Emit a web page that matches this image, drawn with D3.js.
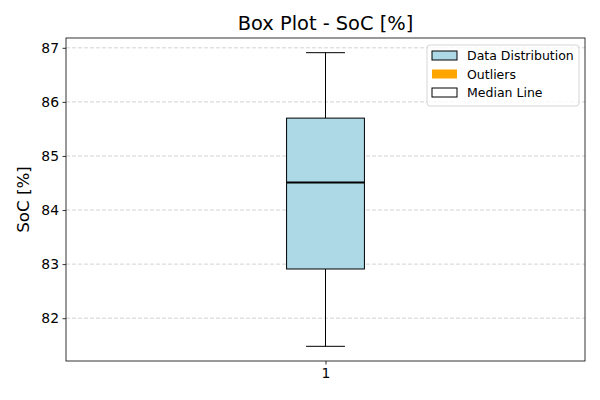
<!DOCTYPE html>
<html>
<head>
<meta charset="utf-8">
<script src="https://cdn.jsdelivr.net/npm/d3@7"></script>
<style>
  body { margin: 0; background: #fff; }
  text { font-family: "DejaVu Sans", sans-serif; }
</style>
</head>
<body>
<svg id="chart" width="600" height="400"></svg>
<script>
// box plot summary
var categories = ['1']
var whiskerLow = [81.48]
var q1 = [82.91]
var median = [84.51]
var q3 = [85.70]
var whiskerHigh = [86.91]
var yTicks = [82, 83, 84, 85, 86, 87]
var legendItems = ['Data Distribution', 'Outliers', 'Median Line']

var svg = d3.select('#chart')
var margin = {left: 66, right: 15, top: 38, bottom: 39}
var w = 600 - margin.left - margin.right
var h = 400 - margin.top - margin.bottom

var g = svg.append('g').attr('transform', `translate(${margin.left},${margin.top})`)

// matplotlib style 5% padding
var lo = d3.min(whiskerLow), hi = d3.max(whiskerHigh)
var pad = (hi - lo) * 0.05
var y = d3.scaleLinear().domain([lo - pad, hi + pad]).range([h, 0])
var x = d3.scaleLinear().domain([0.5, categories.length + 0.5]).range([0, w])

// grid lines
g.selectAll('.grid').data(yTicks).enter().append('line')
  .attr('x1', 0).attr('x2', w)
  .attr('y1', d => y(d)).attr('y2', d => y(d))
  .attr('stroke', '#b0b0b0').attr('stroke-opacity', 0.7)
  .attr('stroke-dasharray', '4,2').attr('stroke-width', 0.8)

// boxes
var boxW = x(1.15) - x(1)
var capW = boxW / 2
categories.forEach(function (c, i) {
  var cx = x(i + 1)
  g.append('line').attr('x1', cx).attr('x2', cx)
    .attr('y1', y(q3[i])).attr('y2', y(whiskerHigh[i]))
    .attr('stroke', '#000').attr('stroke-width', 1)
  g.append('line').attr('x1', cx).attr('x2', cx)
    .attr('y1', y(q1[i])).attr('y2', y(whiskerLow[i]))
    .attr('stroke', '#000').attr('stroke-width', 1)
  ;[whiskerLow[i], whiskerHigh[i]].forEach(function (v) {
    g.append('line').attr('x1', cx - capW / 2).attr('x2', cx + capW / 2)
      .attr('y1', y(v)).attr('y2', y(v))
      .attr('stroke', '#000').attr('stroke-width', 1)
  })
  g.append('rect')
    .attr('x', cx - boxW / 2).attr('width', boxW)
    .attr('y', y(q3[i])).attr('height', y(q1[i]) - y(q3[i]))
    .attr('fill', 'lightblue').attr('stroke', '#000').attr('stroke-width', 1)
  g.append('line').attr('x1', cx - boxW / 2).attr('x2', cx + boxW / 2)
    .attr('y1', y(median[i])).attr('y2', y(median[i]))
    .attr('stroke', '#000').attr('stroke-width', 2)
})

// axes
var yAxis = g.append('g').call(d3.axisLeft(y).tickValues(yTicks).tickSize(3.5).tickPadding(3.5).tickFormat(d3.format('d')))
var xAxis = g.append('g').attr('transform', `translate(0,${h})`)
  .call(d3.axisBottom(x).tickValues(categories.map((c, i) => i + 1)).tickSize(3.5).tickPadding(3.5).tickFormat((d, i) => categories[i]))
;[yAxis, xAxis].forEach(function (a) {
  a.select('.domain').remove()
  a.selectAll('text').attr('font-size', '13.9px').attr('fill', '#000')
    .style('font-family', '"DejaVu Sans", sans-serif')
  a.selectAll('line').attr('stroke', '#000').attr('stroke-width', 0.8)
})

g.append('rect').attr('width', w).attr('height', h)
  .attr('fill', 'none').attr('stroke', '#000').attr('stroke-width', 0.8)

// title and label
svg.append('text').attr('x', margin.left + w / 2).attr('y', 30)
  .attr('text-anchor', 'middle').attr('font-size', '19.4px').text('Box Plot - SoC [%]')
svg.append('text')
  .attr('transform', `translate(29,${margin.top + h / 2}) rotate(-90)`)
  .attr('text-anchor', 'middle').attr('font-size', '16.7px').text('SoC [%]')

// legend
var lx = 427, ly = 45
var legend = svg.append('g').attr('transform', `translate(${lx},${ly})`)
legend.append('rect').attr('width', 152).attr('height', 61).attr('rx', 3)
  .attr('fill', '#fff').attr('fill-opacity', 0.8).attr('stroke', '#ccc').attr('stroke-width', 0.8)
var handles = [
  {fill: 'lightblue', stroke: '#000'},
  {fill: 'orange', stroke: 'none'},
  {fill: '#fff', stroke: '#000'}
]
legendItems.forEach(function (name, i) {
  var ry = 6 + i * 18.5
  legend.append('rect').attr('x', 5).attr('y', ry).attr('width', 25).attr('height', 9)
    .attr('fill', handles[i].fill).attr('stroke', handles[i].stroke).attr('stroke-width', 1)
  legend.append('text').attr('x', 40).attr('y', ry + 9)
    .attr('font-size', '12.5px').text(name)
})
</script>
</body>
</html>
